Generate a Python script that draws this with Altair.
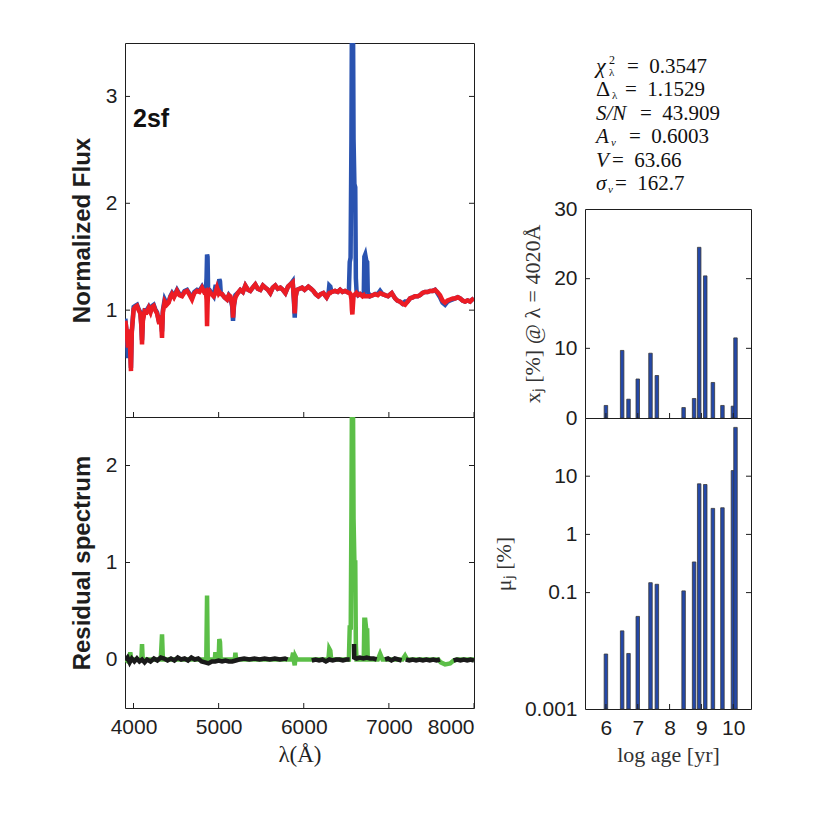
import altair as alt
import pandas as pd

# ---------------- data ----------------
panel_label = "2sf"

# observed (blue) and model (red) normalized flux on a shared wavelength grid
lam = [3904, 3920, 3935, 3950, 3962, 3970, 3980, 4002, 4020, 4041, 4060, 4080, 4092, 4100, 4110,
       4131, 4155, 4178, 4200, 4220, 4237, 4255, 4276, 4303, 4320, 4335, 4345, 4366, 4390, 4413,
       4432, 4452, 4475, 4511, 4540, 4570, 4600, 4629, 4660, 4687, 4715, 4746, 4775, 4805, 4830,
       4850, 4858, 4864, 4870, 4876, 4891, 4915, 4942, 4962, 4981, 5000, 5008, 5016, 5025, 5040,
       5070, 5099, 5120, 5138, 5160, 5169, 5180, 5197, 5225, 5255, 5285, 5314, 5345, 5372, 5400,
       5431, 5460, 5490, 5520, 5549, 5580, 5607, 5636, 5666, 5695, 5725, 5755, 5784, 5815, 5842,
       5870, 5885, 5894, 5903, 5921, 5950, 5980, 6010, 6054, 6085, 6113, 6140, 6172, 6200, 6230,
       6269, 6290, 6300, 6312, 6325, 6368, 6400, 6427, 6455, 6485, 6510, 6530, 6540, 6550, 6560,
       6566, 6571, 6578, 6585, 6595, 6605, 6612, 6620, 6640, 6662, 6690, 6705, 6712, 6722, 6735,
       6745, 6752, 6779, 6810, 6838, 6870, 6897, 6925, 6955, 6990, 7034, 7073, 7100, 7131, 7160,
       7190, 7220, 7249, 7280, 7308, 7340, 7366, 7395, 7425, 7455, 7484, 7515, 7543, 7570, 7601,
       7630, 7660, 7690, 7719, 7750, 7778, 7810, 7837, 7865, 7895, 7925, 7954, 7980, 8000]
model_flux = [0.90, 0.80, 0.65, 0.82, 0.60, 0.43, 0.80, 1.01, 1.03, 1.04, 1.00, 0.97, 0.85, 0.68, 0.90,
              0.99, 0.98, 1.02, 0.98, 1.03, 1.04, 1.00, 0.97, 0.87, 0.95, 0.74, 0.98, 1.08, 1.05, 1.07,
              1.12, 1.15, 1.12, 1.18, 1.14, 1.13, 1.17, 1.18, 1.14, 1.10, 1.16, 1.18, 1.17, 1.21, 1.17,
              1.18, 1.10, 0.85, 1.05, 1.16, 1.18, 1.15, 1.13, 1.16, 1.21, 1.16, 1.17, 1.16, 1.15, 1.15,
              1.12, 1.10, 1.14, 1.13, 1.05, 0.93, 1.05, 1.12, 1.16, 1.19, 1.17, 1.23, 1.19, 1.18, 1.21,
              1.24, 1.20, 1.19, 1.23, 1.21, 1.19, 1.16, 1.21, 1.23, 1.20, 1.21, 1.19, 1.16, 1.22, 1.24,
              1.26, 1.10, 0.97, 1.12, 1.19, 1.20, 1.21, 1.19, 1.22, 1.20, 1.18, 1.15, 1.13, 1.15, 1.16,
              1.12, 1.15, 1.16, 1.16, 1.17, 1.18, 1.17, 1.19, 1.17, 1.18, 1.17, 1.16, 1.16, 1.15, 1.10,
              1.00, 0.96, 1.05, 1.13, 1.14, 1.15, 1.15, 1.16, 1.14, 1.15, 1.13, 1.14, 1.13, 1.13, 1.13,
              1.13, 1.13, 1.13, 1.14, 1.15, 1.14, 1.16, 1.15, 1.14, 1.13, 1.16, 1.11, 1.09, 1.08, 1.06,
              1.05, 1.08, 1.11, 1.12, 1.13, 1.13, 1.14, 1.16, 1.17, 1.17, 1.18, 1.18, 1.19, 1.17, 1.14,
              1.09, 1.07, 1.09, 1.10, 1.11, 1.11, 1.12, 1.11, 1.09, 1.08, 1.09, 1.08, 1.10, 1.11]
obs_flux = [0.92, 0.78, 0.55, 0.80, 0.62, 0.46, 0.80, 1.03, 1.04, 1.05, 1.01, 0.98, 0.86, 0.72, 0.92,
            1.00, 1.00, 1.03, 0.99, 1.04, 1.05, 1.01, 0.98, 0.88, 0.95, 0.80, 1.00, 1.10, 1.06, 1.08,
            1.13, 1.16, 1.13, 1.19, 1.15, 1.14, 1.18, 1.19, 1.15, 1.12, 1.17, 1.19, 1.18, 1.22, 1.18,
            1.19, 1.30, 1.52, 1.50, 1.20, 1.19, 1.16, 1.13, 1.22, 1.22, 1.20, 1.29, 1.27, 1.16, 1.15,
            1.12, 1.10, 1.14, 1.12, 1.03, 0.90, 1.04, 1.14, 1.16, 1.19, 1.17, 1.23, 1.19, 1.18, 1.21,
            1.24, 1.20, 1.19, 1.23, 1.21, 1.19, 1.16, 1.21, 1.23, 1.20, 1.21, 1.19, 1.16, 1.22, 1.24,
            1.27, 1.08, 0.93, 1.12, 1.19, 1.20, 1.21, 1.19, 1.22, 1.20, 1.18, 1.15, 1.13, 1.15, 1.16,
            1.12, 1.15, 1.23, 1.22, 1.17, 1.18, 1.17, 1.19, 1.17, 1.18, 1.17, 1.17, 1.45, 1.49, 2.60,
            3.80, 3.80, 3.80, 2.60, 2.18, 2.15, 1.30, 1.18, 1.14, 1.15, 1.14, 1.15, 1.50, 1.52, 1.46,
            1.45, 1.17, 1.13, 1.14, 1.15, 1.15, 1.18, 1.15, 1.14, 1.13, 1.16, 1.11, 1.09, 1.08, 1.06,
            1.08, 1.08, 1.11, 1.12, 1.13, 1.13, 1.14, 1.16, 1.17, 1.17, 1.18, 1.18, 1.19, 1.16, 1.12,
            1.07, 1.05, 1.08, 1.09, 1.10, 1.11, 1.12, 1.11, 1.09, 1.08, 1.09, 1.08, 1.10, 1.11]

# full residual (green)
res_lam = [3904, 3935, 3955, 3962, 3970, 3990, 4092, 4100, 4108, 4320, 4335, 4345, 4855, 4864, 4872,
           4955, 4962, 4970, 5000, 5008, 5016, 5024, 5190, 5197, 5205, 5800, 5860, 5875, 5885, 5894,
           5903, 5920, 6100, 6290, 6300, 6312, 6322, 6530, 6540, 6552, 6560, 6566, 6578, 6585, 6595,
           6605, 6612, 6620, 6705, 6712, 6722, 6735, 6745, 6752, 6870, 6897, 6925, 7160, 7190, 7215,
           7580, 7610, 7660, 7720, 7760, 7800, 8000]
res_all = [0.0, -0.02, 0.0, 0.075, 0.02, 0.0, 0.0, 0.16, 0.0, 0.0, 0.26, 0.0, 0.0, 0.66, 0.0,
           0.0, 0.075, 0.0, 0.0, 0.21, 0.18, 0.0, 0.0, 0.07, 0.0, 0.0, 0.0, 0.07, -0.02, -0.06,
           0.03, 0.0, 0.0, 0.0, 0.11, 0.09, 0.0, 0.0, 0.33, 0.33, 1.5, 2.7, 2.7, 1.45, 1.0,
           1.0, 0.15, 0.0, 0.0, 0.41, 0.41, 0.30, 0.30, 0.0, 0.0, 0.06, 0.0, 0.0, 0.04, 0.0,
           0.0, -0.03, -0.05, -0.04, -0.01, 0.0, 0.0]

# residual of the fitted (unmasked) pixels (black), in segments
black_lam = [3904, 3930, 3955, 3980, 4010, 4040, 4070, 4100, 4130, 4160, 4200, 4240, 4280, 4320, 4360,
             4400, 4440, 4480, 4520, 4560, 4600, 4640, 4680, 4720, 4760, 4800, 4840, 4880, 4920, 4960,
             5000, 5040, 5080, 5120, 5160, 5200, 5240, 5300, 5360, 5420, 5480, 5540, 5600, 5660, 5720,
             5780, 5810,
             6094, 6140, 6180, 6220, 6260, 6300, 6340, 6380, 6420, 6460, 6500, 6540,
             6591, 6593, 6620, 6660, 6700, 6740, 6780, 6820, 6857,
             6955, 6990, 7030, 7070, 7110, 7150,
             7200, 7240, 7280, 7320, 7360, 7400, 7440, 7480, 7520, 7560, 7600,
             7760, 7800, 7840, 7880, 7920, 7960, 8000]
black_res = [-0.01, 0.02, -0.03, 0.01, -0.02, 0.01, -0.02, 0.0, -0.03, 0.0, -0.02, 0.01, -0.01, 0.02, 0.01,
             -0.01, 0.01, -0.01, 0.02, 0.0, 0.01, -0.01, 0.02, 0.0, 0.01, -0.02, -0.03, -0.04, -0.02, -0.02,
             -0.01, -0.02, -0.01, -0.02, -0.02, -0.01, 0.0, 0.01, 0.0, 0.01, 0.0, 0.01, 0.0, 0.01, 0.0,
             0.01, 0.0,
             -0.01, 0.0, -0.01, 0.0, -0.02, 0.0, -0.01, 0.0, 0.0, -0.01, 0.0, 0.0,
             0.16, 0.02, 0.01, 0.02, 0.01, 0.02, 0.01, 0.01, 0.0,
             0.0, 0.01, -0.01, 0.01, 0.0, -0.01,
             0.0, -0.01, 0.0, -0.01, 0.0, -0.01, 0.0, -0.01, 0.0, -0.01, 0.0,
             -0.01, 0.0, -0.01, 0.0, -0.01, 0.0, -0.01]
black_seg = [1] * 47 + [2] * 12 + [3] * 9 + [4] * 6 + [5] * 11 + [6] * 7

# population synthesis results
log_age = [6.0, 6.51, 6.71, 7.0, 7.4, 7.6, 8.44, 8.77, 8.93, 9.12, 9.36, 9.66, 9.99, 10.07]
light_frac = [1.8, 9.7, 2.7, 5.6, 9.3, 6.1, 1.5, 2.8, 24.5, 20.4, 5.1, 1.8, 1.7, 11.5]
mass_frac = [0.0088, 0.022, 0.009, 0.039, 0.148, 0.139, 0.107, 0.336, 7.4, 7.2, 2.8, 2.87, 12.5, 69.0]

stat_values = ["0.3547", "1.1529", "43.909", "0.6003", "63.66", "162.7"]

flux_ticks = [1, 2, 3]
res_ticks = [0, 1, 2]
lam_ticks = [4000, 5000, 6000, 7000, 8000]
age_ticks = [6, 7, 8, 9, 10]
xj_ticks = [0, 10, 20, 30]
mu_ticks = [0.001, 0.1, 1, 10]
mu_tickmarks = [0.1, 1, 10]

# ---------------- styling / layout ----------------
W_L, H_LT, H_LB = 349, 374, 291
W_R, H_ST, H_RT, H_RB = 166, 166, 209, 291
TICK = 5
INK = "#1e1e1e"
SANS = "Liberation Sans"
SERIF = "Liberation Serif"

xs_lam = alt.Scale(domain=[3900, 8000], nice=False, zero=False)
ys_flux = alt.Scale(domain=[0, 3.5], nice=False, zero=False)
ys_res = alt.Scale(domain=[-0.5, 2.5], nice=False, zero=False)
xs_age = alt.Scale(domain=[5.5, 10.4], nice=False, zero=False)
ys_xj = alt.Scale(domain=[0, 30], nice=False)
ys_mu = alt.Scale(type="log", domain=[0.001, 100], nice=False)

lab = dict(ticks=False, domain=False, grid=False, labelFont=SANS, labelFontSize=21,
           labelColor=INK, labelPadding=8)

ax_flux = alt.Axis(values=flux_ticks, title="Normalized Flux", titleFont=SANS, titleFontSize=24,
                   titleFontWeight="bold", titleColor=INK, titlePadding=11, **lab)
ax_res = alt.Axis(values=res_ticks, title="Residual spectrum", titleFont=SANS, titleFontSize=24,
                  titleFontWeight="bold", titleColor=INK, titlePadding=11, **lab)
ax_lam = alt.Axis(values=lam_ticks, format="d", title="λ(Å)", titleFont=SERIF, titleFontSize=23,
                  titleFontWeight="normal", titleColor=INK, titlePadding=6, **lab)
ax_xj = alt.Axis(values=xj_ticks, title="xⱼ [%] @ λ = 4020Å", titleFont=SERIF, titleFontSize=22,
                 titleFontWeight="normal", titleColor="#333333", titlePadding=9, **lab)
ax_mu = alt.Axis(values=mu_ticks, format="~g", title="μⱼ [%]", titleFont=SERIF, titleFontSize=22,
                 titleFontWeight="normal", titleColor="#333333", titlePadding=9, **lab)
ax_age = alt.Axis(values=age_ticks, title="log age [yr]", titleFont=SERIF, titleFontSize=22,
                  titleFontWeight="normal", titleColor="#333333", titlePadding=6, **lab)


def yticks(vals, scale, axis, width):
    df = pd.DataFrame({"v": vals})
    base = alt.Chart(df).mark_rule(color=INK, strokeWidth=1)
    left = base.encode(y=alt.Y("v:Q", scale=scale, axis=axis), x=alt.value(0), x2=alt.value(TICK))
    right = base.encode(y=alt.Y("v:Q", scale=scale, axis=axis), x=alt.value(width - TICK),
                        x2=alt.value(width))
    return [left, right]


def xticks(vals, scale, axis, height):
    df = pd.DataFrame({"v": vals})
    return [alt.Chart(df).mark_rule(color=INK, strokeWidth=1).encode(
        x=alt.X("v:Q", scale=scale, axis=axis), y=alt.value(height - TICK), y2=alt.value(height))]


# ---- top left: spectrum + model ----
spec_df = pd.DataFrame({"lam": lam, "model": model_flux, "obs": obs_flux})
obs_line = alt.Chart(spec_df).mark_line(color="#2a53b0", strokeWidth=4.5, clip=True).encode(
    x=alt.X("lam:Q", scale=xs_lam, axis=None), y=alt.Y("obs:Q", scale=ys_flux, axis=ax_flux))
mod_line = alt.Chart(spec_df).mark_line(color="#ec1c24", strokeWidth=4.5, clip=True).encode(
    x=alt.X("lam:Q", scale=xs_lam, axis=None), y=alt.Y("model:Q", scale=ys_flux, axis=ax_flux))
name_txt = alt.Chart(pd.DataFrame({"t": [panel_label]})).mark_text(
    align="left", baseline="alphabetic", font=SANS, fontWeight="bold", fontSize=25, color="#111111"
).encode(text="t:N", x=alt.value(8), y=alt.value(84))
lt = alt.layer(obs_line, mod_line, *yticks(flux_ticks, ys_flux, ax_flux, W_L),
               *xticks(lam_ticks, xs_lam, None, H_LT), name_txt).properties(width=W_L, height=H_LT)

# ---- bottom left: residuals ----
green_df = pd.DataFrame({"lam": res_lam, "res": res_all})
black_df = pd.DataFrame({"lam": black_lam, "res": black_res, "seg": black_seg})
green_line = alt.Chart(green_df).mark_line(color="#5cbf48", strokeWidth=4.5, clip=True).encode(
    x=alt.X("lam:Q", scale=xs_lam, axis=ax_lam), y=alt.Y("res:Q", scale=ys_res, axis=ax_res))
black_line = alt.Chart(black_df).mark_line(color="#1a1a1a", strokeWidth=4.5, clip=True).encode(
    x=alt.X("lam:Q", scale=xs_lam, axis=ax_lam), y=alt.Y("res:Q", scale=ys_res, axis=ax_res),
    detail="seg:N")
lb = alt.layer(green_line, black_line, *yticks(res_ticks, ys_res, ax_res, W_L),
               *xticks(lam_ticks, xs_lam, ax_lam, H_LB)).properties(width=W_L, height=H_LB)

# ---- right: stats text ----
def txt(s, x, y, size=21, italic=False):
    return alt.Chart(pd.DataFrame({"t": [s]})).mark_text(
        align="left", baseline="alphabetic", font=SERIF, fontSize=size,
        fontStyle="italic" if italic else "normal", color="#111111"
    ).encode(text="t:N", x=alt.value(x), y=alt.value(y))

EQ = "=\u00a0\u00a0"
Y0, DY = 30, 23.4
ys = [Y0 + i * DY for i in range(6)]
stat_layers = [
    txt("χ", 11, ys[0], 22, italic=True), txt("2", 24, ys[0] - 9, 12), txt("λ", 24, ys[0] + 3, 11),
    txt(EQ + stat_values[0], 42, ys[0]),
    txt("Δ", 11, ys[1], 22), txt("λ", 27, ys[1] + 3, 11), txt(EQ + stat_values[1], 40, ys[1]),
    txt("S/N", 11, ys[2], italic=True), txt(EQ + stat_values[2], 55, ys[2]),
    txt("A", 11, ys[3], italic=True), txt("v", 26, ys[3] + 3, 11, italic=True),
    txt(EQ + stat_values[3], 44, ys[3]),
    txt("V", 11, ys[4], italic=True), txt(EQ + stat_values[4], 27, ys[4]),
    txt("σ", 11, ys[5], italic=True), txt("v", 23, ys[5] + 3, 11, italic=True),
    txt(EQ + stat_values[5], 30, ys[5]),
]
stats = alt.layer(*stat_layers).properties(width=W_R, height=H_ST,
                                          view=alt.ViewBackground(stroke="transparent"))

# ---- right top: light fractions ----
pop_df = pd.DataFrame({"age": log_age, "xj": light_frac, "mu": mass_frac})
bar_style = dict(size=3.5, fill="#2448a8", stroke="#3a3a3a", strokeWidth=0.8)
xj_bars = alt.Chart(pop_df).mark_bar(**bar_style).encode(
    x=alt.X("age:Q", scale=xs_age, axis=None), y=alt.Y("xj:Q", scale=ys_xj, axis=ax_xj))
rt = alt.layer(xj_bars, *yticks([10, 20], ys_xj, ax_xj, W_R),
               *xticks(age_ticks, xs_age, None, H_RT)).properties(width=W_R, height=H_RT)

# ---- right bottom: mass fractions ----
mu_bars = alt.Chart(pop_df).mark_bar(**bar_style).encode(
    x=alt.X("age:Q", scale=xs_age, axis=ax_age), y=alt.Y("mu:Q", scale=ys_mu, axis=ax_mu),
    y2=alt.datum(0.001))
rb = alt.layer(mu_bars, *yticks(mu_tickmarks, ys_mu, ax_mu, W_R),
               *xticks(age_ticks, xs_age, ax_age, H_RB)).properties(width=W_R, height=H_RB)

left = alt.vconcat(lt, lb, spacing=0, bounds="flush")
right = alt.vconcat(stats, rt, rb, spacing=0, bounds="flush")
chart = alt.hconcat(left, right, spacing=16, bounds="full").properties(
    padding={"left": 69, "top": 42, "right": 5, "bottom": 5},
    background="white",
).configure_view(stroke=INK, strokeWidth=1)

chart.save("out.html", embed_options={"renderer": "svg", "actions": False})
